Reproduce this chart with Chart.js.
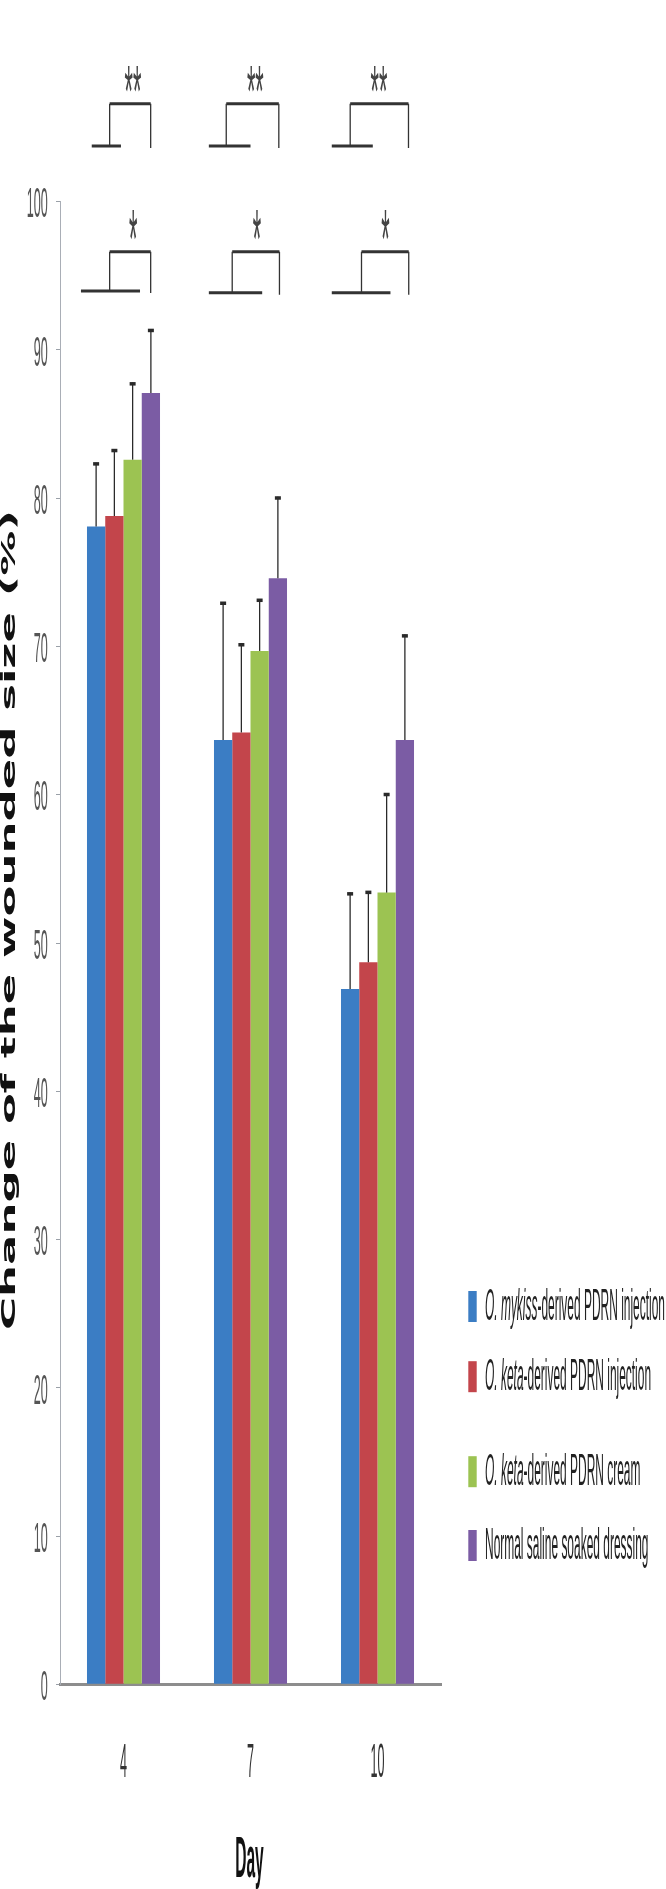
<!DOCTYPE html>
<html>
<head>
<meta charset="utf-8">
<title>Change of the wounded size</title>
<script src="https://cdn.jsdelivr.net/npm/chart.js@4.4.1/dist/chart.umd.min.js"></script>
<style>
  html, body { margin: 0; padding: 0; background: #fff; }
  #wrap { width: 666px; height: 1889px; }
</style>
</head>
<body>
<div id="wrap"><canvas id="woundChart" width="666" height="1889"></canvas></div>
<script>
  // values (mean and upper error, %)
  var days = ["4", "7", "10"];
  var seriesNames = [
    "O. mykiss-derived PDRN injection",
    "O. keta-derived PDRN injection",
    "O. keta-derived PDRN cream",
    "Normal saline soaked dressing"
  ];
  var mykissInjection = [78.1, 63.7, 46.9];
  var mykissInjectionErr = [4.3, 9.3, 6.5];
  var ketaInjection = [78.8, 64.2, 48.7];
  var ketaInjectionErr = [4.5, 6.0, 4.8];
  var ketaCream = [82.6, 69.7, 53.4];
  var ketaCreamErr = [5.2, 3.5, 6.7];
  var salineDressing = [87.1, 74.6, 63.7];
  var salineDressingErr = [4.3, 5.5, 7.1];
  var yTickValues = [0, 10, 20, 30, 40, 50, 60, 70, 80, 90, 100];

  var seriesColors = ["#3b7dc4", "#c3454b", "#9cc352", "#7b5ca4"];

  // significance brackets: day index, offsets in category units, heights in % units
  var sigBrackets = [
    { day: 0, mark: "**", from: -0.250, to: -0.020, left: -0.109, right: 0.214, star: 0.075, low: 103.76, high: 106.61, textAt: 108.3 },
    { day: 1, mark: "**", from: -0.328, to: 0.000, left: -0.191, right: 0.223, star: 0.038, low: 103.76, high: 106.61, textAt: 108.3 },
    { day: 2, mark: "**", from: -0.360, to: -0.037, left: -0.215, right: 0.244, star: 0.012, low: 103.76, high: 106.61, textAt: 108.3 },
    { day: 0, mark: "*", from: -0.335, to: 0.130, left: -0.109, right: 0.214, star: 0.077, low: 93.97, high: 96.63, textAt: 98.5 },
    { day: 1, mark: "*", from: -0.328, to: 0.092, left: -0.144, right: 0.228, star: 0.050, low: 93.86, high: 96.63, textAt: 98.5 },
    { day: 2, mark: "*", from: -0.360, to: 0.102, left: -0.126, right: 0.246, star: 0.063, low: 93.86, high: 96.63, textAt: 98.5 }
  ];

  var NARROW = "'Liberation Sans Narrow', 'Liberation Sans', sans-serif";

  // width scale so that a sample string takes the given width
  function fitScale(ctx, font, sample, width) {
    ctx.save();
    ctx.font = font;
    var w = ctx.measureText(sample).width;
    ctx.restore();
    return width / w;
  }

  // text in this figure is strongly stretched vertically, so draw it scaled
  function drawText(ctx, str, x, yMid, font, sx, sy, align, color) {
    ctx.save();
    ctx.font = font;
    var cap = ctx.measureText("H").actualBoundingBoxAscent;
    ctx.translate(x, yMid + cap * sy / 2);
    ctx.scale(sx, sy);
    ctx.textAlign = align;
    ctx.textBaseline = "alphabetic";
    ctx.fillStyle = color;
    ctx.fillText(str, 0, 0);
    ctx.restore();
  }

  var errorBars = {
    id: "errorBars",
    afterDatasetsDraw: function (chart) {
      var ctx = chart.ctx, y = chart.scales.y;
      ctx.save();
      chart.data.datasets.forEach(function (ds, i) {
        chart.getDatasetMeta(i).data.forEach(function (bar, j) {
          var top = y.getPixelForValue(ds.data[j] + ds.errors[j]);
          ctx.strokeStyle = "#2a2a2a";
          ctx.lineWidth = 1.3;
          ctx.beginPath();
          ctx.moveTo(bar.x, bar.y);
          ctx.lineTo(bar.x, top);
          ctx.stroke();
          ctx.fillStyle = "#2a2a2a";
          ctx.fillRect(bar.x - 3, top - 0.5, 6, 3.5);
        });
      });
      ctx.restore();
    }
  };

  var decorations = {
    id: "decorations",
    afterDraw: function (chart) {
      var ctx = chart.ctx, x = chart.scales.x, y = chart.scales.y;

      // brackets and stars
      sigBrackets.forEach(function (b) {
        var px = function (off) { return x.getPixelForValue(b.day + off); };
        var yl = y.getPixelForValue(b.low), yh = y.getPixelForValue(b.high);
        ctx.save();
        ctx.strokeStyle = "#333";
        ctx.lineWidth = 3;
        ctx.beginPath();
        ctx.moveTo(px(b.from), yl); ctx.lineTo(px(b.to), yl);
        ctx.moveTo(px(b.left), yh); ctx.lineTo(px(b.right), yh);
        ctx.stroke();
        ctx.lineWidth = 1.3;
        ctx.beginPath();
        ctx.moveTo(px(b.left), yl); ctx.lineTo(px(b.left), yh);
        ctx.moveTo(px(b.right), yh); ctx.lineTo(px(b.right), yl + 2);
        ctx.stroke();
        ctx.font = "24px 'Liberation Sans', sans-serif";
        var m = ctx.measureText("*");
        var mid = (m.actualBoundingBoxAscent - m.actualBoundingBoxDescent) / 2;
        var sy = b.mark.length > 1 ? 3.0 : 3.5;
        ctx.translate(px(b.star), y.getPixelForValue(b.textAt) + mid * sy);
        ctx.scale(0.9, sy);
        ctx.textAlign = "center";
        ctx.fillStyle = "#444";
        ctx.fillText(b.mark, 0, 0);
        ctx.restore();
      });

      // tick labels: tall, narrow digits
      var tickFont = "16px " + NARROW;
      var tickSx = fitScale(ctx, tickFont, "100", 21);
      y.ticks.forEach(function (t) {
        drawText(ctx, String(t.value), 47.7, y.getPixelForValue(t.value),
          tickFont, tickSx, 2.62, "right", "#555");
      });
      days.forEach(function (d, i) {
        drawText(ctx, d, x.getPixelForValue(i), 1759,
          tickFont, tickSx, 2.95, "center", "#333");
      });
      // x title
      var dayFont = "bold 19px " + NARROW;
      drawText(ctx, "Day", (x.left + x.right) / 2 - 1, 1857.5,
        dayFont, fitScale(ctx, dayFont, "Day", 28.5), 3.0, "center", "#111");

      // y title, rotated and stretched along its reading direction
      ctx.save();
      var title = "Change of the wounded size (%)";
      ctx.font = "bold 19px 'DejaVu Sans', sans-serif";
      var w = ctx.measureText(title).width;
      ctx.translate(14.5, 920);
      ctx.rotate(-Math.PI / 2);
      ctx.scale(820 / w, 1);
      ctx.textAlign = "center";
      ctx.textBaseline = "alphabetic";
      ctx.fillStyle = "#111";
      ctx.fillText(title, 0, 0);
      ctx.restore();

      // legend
      var rowMid = [1306.5, 1376.7, 1471.7, 1545.5];
      var itFont = "italic 14.5px " + NARROW, upFont = "14.5px " + NARROW;
      function splitName(name) {
        var it = (name.match(/^O\. [a-z]+/) || [""])[0];
        return [it, name.slice(it.length)];
      }
      var first = splitName(seriesNames[0]);
      ctx.font = itFont;
      var w0 = ctx.measureText(first[0]).width;
      ctx.font = upFont;
      w0 += ctx.measureText(first[1]).width;
      var legSx = 180 / w0;
      seriesNames.forEach(function (name, i) {
        ctx.fillStyle = seriesColors[i];
        ctx.fillRect(468.3, rowMid[i] - 15.5, 8.4, 31);
        var parts = splitName(name);
        var tx = 485, sy = 3.08;
        if (parts[0]) {
          drawText(ctx, parts[0], tx, rowMid[i] - 2, itFont, legSx, sy, "left", "#222");
          ctx.font = itFont;
          tx += ctx.measureText(parts[0]).width * legSx;
        }
        drawText(ctx, parts[1], tx, rowMid[i] - 2, upFont, legSx, sy, "left", "#222");
      });
    }
  };

  function makeSet(i, values, errs) {
    return {
      label: seriesNames[i],
      data: values,
      errors: errs,
      backgroundColor: seriesColors[i],
      borderWidth: 0,
      categoryPercentage: 0.575,
      barPercentage: 1.0
    };
  }

  new Chart(document.getElementById("woundChart"), {
    type: "bar",
    data: {
      labels: days,
      datasets: [
        makeSet(0, mykissInjection, mykissInjectionErr),
        makeSet(1, ketaInjection, ketaInjectionErr),
        makeSet(2, ketaCream, ketaCreamErr),
        makeSet(3, salineDressing, salineDressingErr)
      ]
    },
    options: {
      responsive: false,
      maintainAspectRatio: false,
      devicePixelRatio: 1,
      animation: false,
      events: [],
      layout: { padding: { left: 56, right: 225, top: 201.7, bottom: 204.7 } },
      plugins: { legend: { display: false }, tooltip: { enabled: false } },
      scales: {
        x: {
          grid: { display: false, drawTicks: false },
          border: { display: true, color: "#8d8d8d", width: 3 },
          ticks: { display: false }
        },
        y: {
          min: 0,
          max: 100,
          afterBuildTicks: function (scale) {
            scale.ticks = yTickValues.map(function (v) { return { value: v }; });
          },
          grid: { display: true, drawOnChartArea: false, drawTicks: true, tickLength: 4, color: "#9aa0a8", lineWidth: 1 },
          border: { display: true, color: "#a9aeb6", width: 1 },
          ticks: { display: false }
        }
      }
    },
    plugins: [errorBars, decorations]
  });
</script>
</body>
</html>
